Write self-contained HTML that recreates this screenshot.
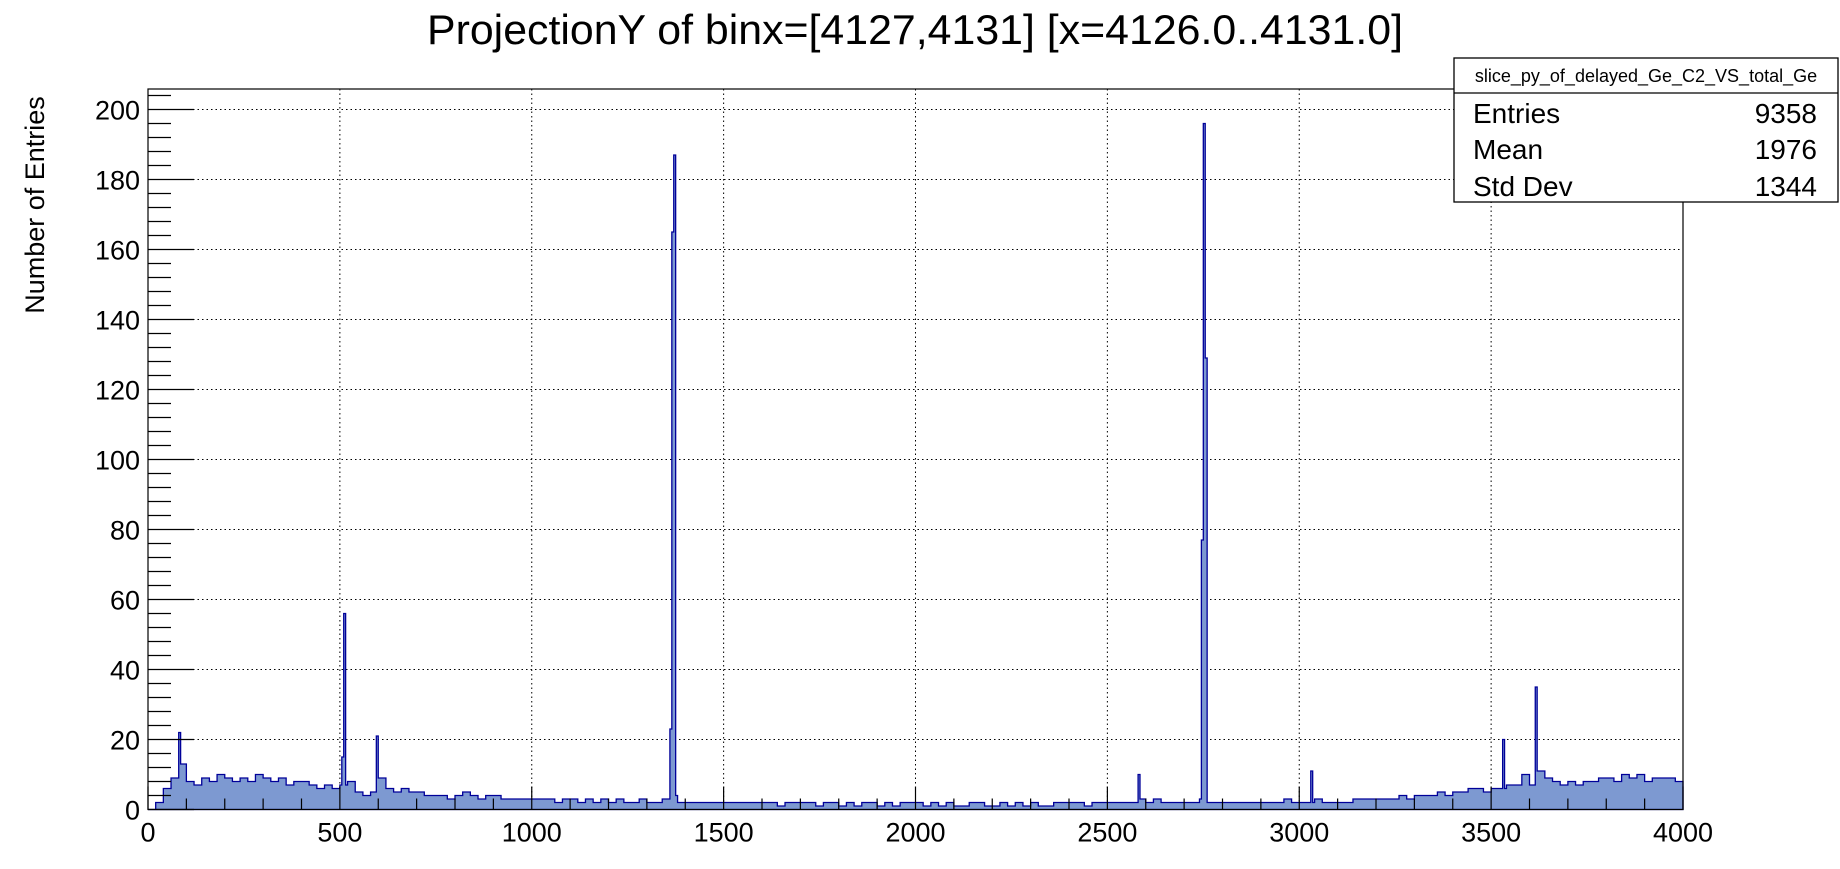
<!DOCTYPE html>
<html><head><meta charset="utf-8"><style>
html,body{margin:0;padding:0;background:#fff;}
svg{display:block;font-family:"Liberation Sans",sans-serif;}
</style></head><body>
<svg id="chart" width="1840" height="869" viewBox="0 0 1840 869" xmlns="http://www.w3.org/2000/svg">
<rect width="1840" height="869" fill="#fff"/>
<text x="915" y="44" font-size="42" text-anchor="middle" textLength="976" lengthAdjust="spacingAndGlyphs">ProjectionY of binx=[4127,4131] [x=4126.0..4131.0]</text>
<text transform="translate(44,205) rotate(-90)" font-size="27" text-anchor="middle">Number of Entries</text>
<g id="grid"></g>
<g id="hist"></g>
<g id="axes"></g>
<rect x="148" y="89" width="1535" height="720.5" fill="none" stroke="#000" stroke-width="1.2"/>
<g>
<rect x="1454" y="58" width="384" height="144" fill="#fff" stroke="#000" stroke-width="1.3"/>
<line x1="1454" y1="93" x2="1838" y2="93" stroke="#000" stroke-width="1.3"/>
<text x="1646" y="82" font-size="18" text-anchor="middle">slice_py_of_delayed_Ge_C2_VS_total_Ge</text>
<text x="1473" y="123" font-size="28">Entries</text>
<text x="1817" y="123" font-size="28" text-anchor="end">9358</text>
<text x="1473" y="159" font-size="28">Mean</text>
<text x="1817" y="159" font-size="28" text-anchor="end">1976</text>
<text x="1473" y="196" font-size="28">Std Dev</text>
<text x="1817" y="196" font-size="28" text-anchor="end">1344</text>
</g>
</svg>
<script>
// baseline counts per 20-unit bin (0..4000)
const baseCounts = [
0,2,6,9,13,8,7,9,8,10, 9,8,9,8,10,9,8,9,7,8, 8,7,6,7,6,7,8,5,4,5, 9,6,5,6,5,5,4,4,4,3,
4,5,4,3,4,4,3,3,3,3, 3,3,3,2,3,3,2,3,2,3, 2,3,2,2,3,2,2,3,4,2, 2,2,2,2,2,2,2,2,2,2,
2,2,1,2,2,2,2,1,2,2, 1,2,1,2,2,1,2,1,2,2, 2,1,2,1,2,1,1,2,2,1, 1,2,1,2,1,2,1,1,2,2,
2,2,1,2,2,2,2,2,2,3, 2,3,2,2,2,2,2,3,2,2, 2,2,2,2,2,2,2,2,3,2, 2,2,3,2,2,2,2,3,3,3,
3,3,3,4,3,4,4,4,5,4, 5,5,6,6,5,6,6,7,7,10, 7,11,9,8,7,8,7,8,8,9, 9,8,10,9,10,8,9,9,9,8];
// narrow peaks: positions (x) and counts
const peakX = [80, 508, 511, 514, 597, 1364, 1367, 1370, 1373, 2580, 2749, 2752, 2755, 2758, 3030, 3533, 3618];
const peakY = [22, 15, 56, 24, 21, 23, 165, 187, 17, 10, 77, 196, 129, 29, 11, 20, 35];
const xTicks = [0,500,1000,1500,2000,2500,3000,3500,4000];
const yTicks = [0,20,40,60,80,100,120,140,160,180,200];

const NS="http://www.w3.org/2000/svg";
const X0=148,X1=1683,Y0=809.5,Ypx=3.5;
const sx=v=>X0+(v/4000)*(X1-X0);
const sy=v=>Y0-v*Ypx;
function mk(t,a,p){const e=document.createElementNS(NS,t);for(const k in a)e.setAttribute(k,a[k]);p.appendChild(e);return e;}
const grid=document.getElementById('grid'),axes=document.getElementById('axes'),hist=document.getElementById('hist');

// histogram: build 5-unit bins from baseline + peaks
const bw=5,nb=800,vals=[];
for(let i=0;i<nb;i++){vals.push(baseCounts[Math.floor(i*bw/20)]);}
for(let k=0;k<peakX.length;k++){const i=Math.floor(peakX[k]/bw);vals[i]=Math.max(vals[i],peakY[k]);}
let d=`M${sx(0)},${sy(0)}`;
for(let i=0;i<nb;i++){d+=` L${sx(i*bw).toFixed(2)},${sy(vals[i]).toFixed(2)} L${sx((i+1)*bw).toFixed(2)},${sy(vals[i]).toFixed(2)}`;}
d+=` L${sx(4000)},${sy(0)} Z`;
const fill=mk('path',{d:d,fill:'#7d99d1',stroke:'none'},hist);


const line=mk('path',{d:d,fill:'none',stroke:'#000099','stroke-width':1.3},hist);



// grid + ticks
xTicks.forEach(v=>{
  const g=mk('line',{x1:sx(v),x2:sx(v),y1:89,y2:Y0,stroke:'#000','stroke-dasharray':'1.5,3','stroke-width':1},grid);
  
  
  const t=mk('text',{x:sx(v),y:Y0+32,'font-size':27,'text-anchor':'middle'},axes);t.textContent=v;
  
  
});
for(let v=0;v<=4000;v+=100){mk('line',{x1:sx(v),x2:sx(v),y1:Y0,y2:Y0-(v%500==0?23:11),stroke:'#000','stroke-width':1.2},axes);}
yTicks.forEach(v=>{
  const g=mk('line',{x1:X0,x2:X1,y1:sy(v),y2:sy(v),stroke:'#000','stroke-dasharray':'1.5,3','stroke-width':1},grid);
  
  
  const t=mk('text',{x:X0-8,y:sy(v)+10,'font-size':27,'text-anchor':'end'},axes);t.textContent=v;
  
  
});
for(let v=0;v<=204;v+=4){mk('line',{x1:X0,x2:X0+(v%20==0?46:23),y1:sy(v),y2:sy(v),stroke:'#000','stroke-width':1.2},axes);}
</script>
</body></html>
